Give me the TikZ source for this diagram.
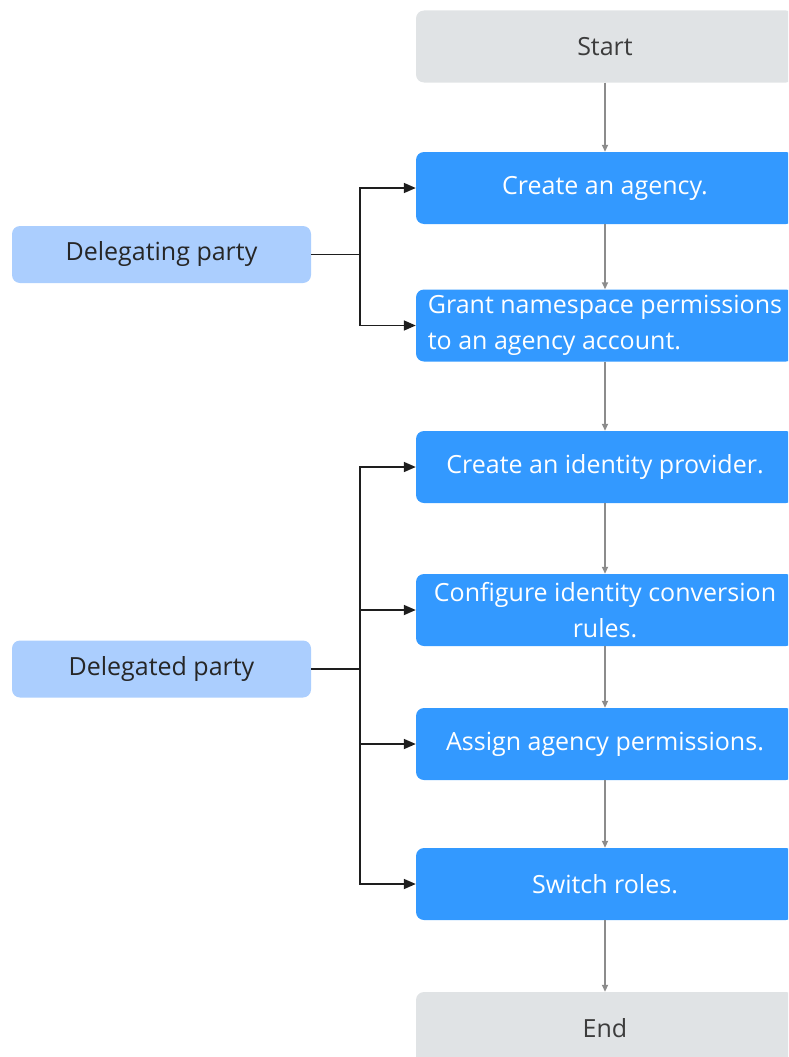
\documentclass[tikz,border=0pt]{standalone}
\usepackage{fontspec}
\setmainfont{Open Sans}
\usetikzlibrary{arrows.meta}
\definecolor{stepblue}{RGB}{51,153,255}
\definecolor{rolefill}{RGB}{171,206,254}
\definecolor{termfill}{RGB}{224,227,229}
\definecolor{termtext}{RGB}{60,60,60}
\definecolor{flowgray}{RGB}{140,140,140}
\definecolor{linkblack}{RGB}{30,30,30}
\tikzset{
  stepbox/.style={rectangle, rounded corners=8pt, fill=stepblue, text=white,
    minimum width=378pt, minimum height=72pt, inner sep=0pt, align=center,
    font=\fontsize{25}{36}\selectfont},
  termbox/.style={stepbox, fill=termfill, text=termtext},
  rolebox/.style={rectangle, rounded corners=8pt, fill=rolefill, text=black!85,
    minimum width=299pt, minimum height=57pt, inner sep=0pt,
    font=\fontsize{25}{30}\selectfont},
  flow/.style={draw=flowgray, line width=2pt, -{Triangle[length=7pt,width=6pt]}},
  link/.style={draw=linkblack, line width=1.7pt},
  linkarrow/.style={link, -{Triangle[length=12pt,width=10pt]}}
}
\begin{document}
\begin{tikzpicture}[x=1pt, y=-1pt]
  \path[use as bounding box] (0,0) rectangle (788,1057);
  \clip (0,0) rectangle (788,1057);

  % main flow column
  \node[termbox] (start) at (605,46.5) {Start};
  \node[stepbox] (agency) at (605,188) {Create an agency.};
  \node[stepbox, align=left] (grant) at (605,325.5) {Grant namespace permissions\\to an agency account.};
  \node[stepbox] (idp) at (605,467) {Create an identity provider.};
  \node[stepbox] (rules) at (605,610) {Configure identity conversion\\rules.};
  \node[stepbox] (assign) at (605,744) {Assign agency permissions.};
  \node[stepbox] (switch) at (605,884) {Switch roles.};
  \node[termbox] (end) at (605,1028) {End};

  \draw[flow] (start) -- (agency);
  \draw[flow] (agency) -- (grant);
  \draw[flow] (grant) -- (idp);
  \draw[flow] (idp) -- (rules);
  \draw[flow] (rules) -- (assign);
  \draw[flow] (assign) -- (switch);
  \draw[flow] (switch) -- (end);

  % parties
  \node[rolebox] (delegating) at (161.5,254.5) {Delegating party};
  \node[rolebox] (delegated) at (161.5,669) {Delegated party};

  \draw[link] (delegating.east) -- ++(49,0) coordinate (jA);
  \draw[linkarrow] (jA) |- (agency.west);
  \draw[linkarrow] (jA) |- (grant.west);

  \draw[link] (delegated.east) -- ++(49,0) coordinate (jB);
  \draw[linkarrow] (jB) |- (idp.west);
  \draw[linkarrow] (jB) |- (rules.west);
  \draw[linkarrow] (jB) |- (assign.west);
  \draw[linkarrow] (jB) |- (switch.west);
\end{tikzpicture}
\end{document}
